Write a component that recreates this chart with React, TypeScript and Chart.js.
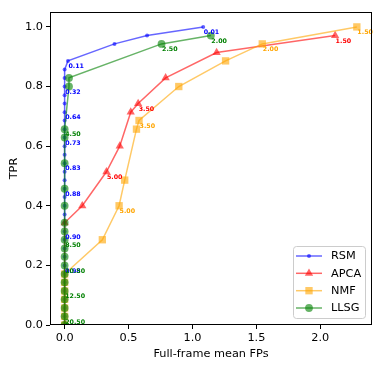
import { useEffect, useRef } from 'react';
import { Chart, registerables } from 'chart.js';
Chart.register(...registerables);

// RSM
const rsmFP = [1.084, 0.645, 0.39, 0.026, 0, 0, 0, 0, 0, 0, 0, 0, 0, 0, 0, 0, 0, 0, 0, 0, 0, 0, 0, 0, 0, 0, 0, 0, 0, 0, 0, 0, 0, 0, 0];
const rsmTPR = [1.0, 0.971, 0.943, 0.886, 0.857, 0.829, 0.8, 0.771, 0.743, 0.714, 0.686, 0.657, 0.629, 0.6, 0.571, 0.543, 0.514, 0.486, 0.457, 0.429, 0.4, 0.371, 0.343, 0.314, 0.286, 0.257, 0.229, 0.2, 0.171, 0.143, 0.114, 0.086, 0.057, 0.029, 0];
const rsmLabels = ['0.01', '0.11', '0.32', '0.64', '0.73', '0.83', '0.88', '0.90', '0.98'];
const rsmLabelIdx = [0, 3, 6, 9, 12, 15, 18, 23, 27];

// APCA
const apcaFP = [2.116, 1.189, 0.79, 0.575, 0.517, 0.431, 0.327, 0.138, 0, 0];
const apcaTPR = [0.971, 0.914, 0.829, 0.743, 0.714, 0.6, 0.514, 0.4, 0.343, 0];
const apcaLabels = ['1.50', '3.50', '5.00'];
const apcaLabelIdx = [0, 3, 6];

// NMF
const nmfFP = [2.286, 1.546, 1.259, 0.893, 0.582, 0.562, 0.47, 0.426, 0.295, 0, 0, 0, 0, 0, 0, 0];
const nmfTPR = [1.0, 0.943, 0.886, 0.8, 0.686, 0.657, 0.486, 0.4, 0.286, 0.171, 0.143, 0.114, 0.086, 0.057, 0.029, 0];
const nmfLabels = ['1.50', '2.00', '3.50', '5.00'];
const nmfLabelIdx = [0, 1, 4, 7];

// LLSG
const llsgFP = [1.144, 0.758, 0.034, 0.034, 0, 0, 0, 0, 0, 0, 0, 0, 0, 0, 0, 0, 0, 0, 0, 0, 0, 0];
const llsgTPR = [0.971, 0.943, 0.829, 0.8, 0.657, 0.629, 0.543, 0.457, 0.4, 0.343, 0.314, 0.286, 0.257, 0.229, 0.2, 0.171, 0.143, 0.114, 0.086, 0.057, 0.029, 0];
const llsgLabels = ['2.00', '2.50', '4.50', '8.50', '10.50', '12.50', '20.50'];
const llsgLabelIdx = [0, 1, 4, 11, 14, 17, 20];

const xTicks = [0, 0.5, 1.0, 1.5, 2.0];
const yTicks = [0, 0.2, 0.4, 0.6, 0.8, 1.0];

const FONT = '"DejaVu Sans", sans-serif';

type SeriesDef = {
  name: string;
  fp: number[];
  tpr: number[];
  labels: string[];
  idx: number[];
  line: string;
  text: string;
  style: string;
  radius: number;
};

const series: SeriesDef[] = [
  { name: 'RSM', fp: rsmFP, tpr: rsmTPR, labels: rsmLabels, idx: rsmLabelIdx, line: 'rgba(0,0,255,0.6)', text: '#0000ff', style: 'circle', radius: 2 },
  { name: 'APCA', fp: apcaFP, tpr: apcaTPR, labels: apcaLabels, idx: apcaLabelIdx, line: 'rgba(255,0,0,0.6)', text: '#ff0000', style: 'triangle', radius: 4.8 },
  { name: 'NMF', fp: nmfFP, tpr: nmfTPR, labels: nmfLabels, idx: nmfLabelIdx, line: 'rgba(255,165,0,0.6)', text: '#ffa500', style: 'rect', radius: 5.2 },
  { name: 'LLSG', fp: llsgFP, tpr: llsgTPR, labels: llsgLabels, idx: llsgLabelIdx, line: 'rgba(0,128,0,0.6)', text: '#008000', style: 'circle', radius: 3.9 },
];

function drawMarker(ctx: CanvasRenderingContext2D, style: string, x: number, y: number, r: number) {
  ctx.beginPath();
  if (style === 'circle') {
    ctx.arc(x, y, r, 0, Math.PI * 2);
  } else if (style === 'triangle') {
    ctx.moveTo(x, y - r);
    ctx.lineTo(x + r * 0.866, y + r * 0.5);
    ctx.lineTo(x - r * 0.866, y + r * 0.5);
    ctx.closePath();
  } else {
    const s = r * Math.SQRT1_2;
    ctx.rect(x - s, y - s, 2 * s, 2 * s);
  }
  ctx.fill();
}

const overlay = {
  id: 'overlay',
  afterDatasetsDraw(chart: any) {
    const ctx = chart.ctx as CanvasRenderingContext2D;
    const xs = chart.scales.x;
    const ys = chart.scales.y;
    ctx.save();
    ctx.font = `bold 6.3px ${FONT}`;
    ctx.textBaseline = 'top';
    ctx.textAlign = 'left';
    series.forEach((s) => {
      ctx.fillStyle = s.text;
      s.labels.forEach((t, i) => {
        const k = s.idx[i];
        const px = xs.getPixelForValue(s.fp[k]);
        const py = ys.getPixelForValue(s.tpr[k]);
        ctx.fillText(t, px + 0.5, py + 2.5);
      });
    });
    ctx.restore();
  },
  afterDraw(chart: any) {
    const ctx = chart.ctx as CanvasRenderingContext2D;
    const a = chart.chartArea;
    ctx.save();
    // frame
    ctx.strokeStyle = '#000';
    ctx.lineWidth = 1;
    ctx.strokeRect(Math.round(a.left) + 0.5, Math.round(a.top) + 0.5, Math.round(a.right - a.left) - 1, Math.round(a.bottom - a.top) - 1);
    // axis titles
    ctx.fillStyle = '#000';
    ctx.font = `11.3px ${FONT}`;
    ctx.textAlign = 'center';
    ctx.textBaseline = 'alphabetic';
    ctx.fillText('Full-frame mean FPs', (a.left + a.right) / 2, 357);
    ctx.save();
    ctx.translate(17, (a.top + a.bottom) / 2);
    ctx.rotate(-Math.PI / 2);
    ctx.fillText('TPR', 0, 0);
    ctx.restore();
    // legend
    const lx = 293.5, ly = 246.5, lw = 72, lh = 72, rr = 3;
    ctx.beginPath();
    ctx.moveTo(lx + rr, ly);
    ctx.lineTo(lx + lw - rr, ly);
    ctx.quadraticCurveTo(lx + lw, ly, lx + lw, ly + rr);
    ctx.lineTo(lx + lw, ly + lh - rr);
    ctx.quadraticCurveTo(lx + lw, ly + lh, lx + lw - rr, ly + lh);
    ctx.lineTo(lx + rr, ly + lh);
    ctx.quadraticCurveTo(lx, ly + lh, lx, ly + lh - rr);
    ctx.lineTo(lx, ly + rr);
    ctx.quadraticCurveTo(lx, ly, lx + rr, ly);
    ctx.closePath();
    ctx.fillStyle = 'rgba(255,255,255,0.8)';
    ctx.fill();
    ctx.strokeStyle = '#cccccc';
    ctx.stroke();
    const rowY = [256, 273.3, 290.7, 308];
    series.forEach((s, i) => {
      const y = rowY[i];
      ctx.strokeStyle = s.line;
      ctx.lineWidth = 1.5;
      ctx.beginPath();
      ctx.moveTo(296, y);
      ctx.lineTo(322, y);
      ctx.stroke();
      ctx.fillStyle = s.line;
      drawMarker(ctx, s.style, 309, y, s.radius);
      ctx.fillStyle = '#000';
      ctx.font = `11.3px ${FONT}`;
      ctx.textAlign = 'left';
      ctx.textBaseline = 'middle';
      ctx.fillText(s.name, 331, y + 0.5);
    });
    ctx.restore();
  },
};

export default function App() {
  const ref = useRef<HTMLCanvasElement | null>(null);
  useEffect(() => {
    if (!ref.current) return;
    const datasets = series.map((s, i) => ({
      label: s.name,
      data: s.fp.map((x, j) => ({ x, y: s.tpr[j] })),
      borderColor: s.line,
      backgroundColor: s.line,
      pointBackgroundColor: s.line,
      pointBorderWidth: 0,
      pointBorderColor: 'rgba(0,0,0,0)',
      pointRadius: s.radius,
      pointStyle: s.style,
      borderWidth: 1.5,
      showLine: true,
      fill: false,
      tension: 0,
      order: 3 - i,
    }));
    const chart = new Chart(ref.current, {
      type: 'scatter',
      data: { datasets: datasets as any },
      options: {
        animation: false,
        responsive: false,
        devicePixelRatio: 1,
        layout: { padding: { left: 0, right: 12, top: 12, bottom: 0 } },
        plugins: { legend: { display: false }, tooltip: { enabled: false } },
        scales: {
          x: {
            type: 'linear',
            min: -0.1145,
            max: 2.4045,
            afterBuildTicks: (sc: any) => {
              sc.ticks = xTicks.map((v) => ({ value: v }));
            },
            afterFit: (sc: any) => {
              sc.height = 43;
            },
            ticks: {
              color: '#000',
              font: { family: FONT, size: 11.3 },
              padding: 2,
              maxRotation: 0,
              callback: (v: any) => Number(v).toFixed(1),
            },
            grid: { display: true, drawOnChartArea: false, drawTicks: true, tickLength: 4, color: '#000', lineWidth: 1 },
            border: { display: false },
          },
          y: {
            type: 'linear',
            min: 0,
            max: 1.05,
            afterBuildTicks: (sc: any) => {
              sc.ticks = yTicks.map((v) => ({ value: v }));
            },
            afterFit: (sc: any) => {
              sc.width = 50;
            },
            ticks: {
              color: '#000',
              font: { family: FONT, size: 11.3 },
              padding: 3,
              callback: (v: any) => Number(v).toFixed(1),
            },
            grid: { display: true, drawOnChartArea: false, drawTicks: true, tickLength: 4, color: '#000', lineWidth: 1 },
            border: { display: false },
          },
        },
      },
      plugins: [overlay],
    });
    return () => chart.destroy();
  }, []);
  return (
    <div style={{ position: 'fixed', left: 0, top: 0, width: 384, height: 368, background: '#fff' }}>
      <canvas ref={ref} width={384} height={368} style={{ width: 384, height: 368 }} />
    </div>
  );
}
